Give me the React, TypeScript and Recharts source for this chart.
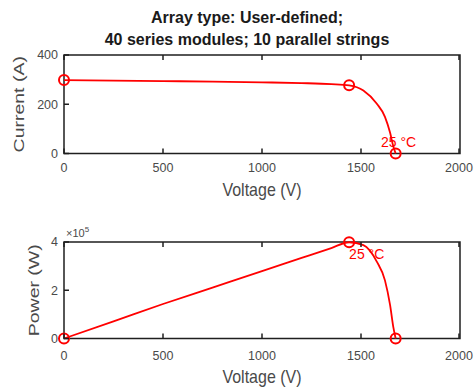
import React from "react";
import { Label, Line, LineChart, ReferenceArea, XAxis, YAxis } from "recharts";

// I-V and P-V curve samples
const voltage = [0, 250, 500, 750, 1000, 1200, 1350, 1440, 1512, 1579, 1621, 1647, 1663, 1675];
const current = [298, 296, 294, 292, 289, 286, 282, 277, 256, 203, 149, 84, 29, 0];
const power = [0, 71000, 143000, 211000, 279000, 334000, 375000, 399000, 387000, 320000, 241000, 138000, 48000, 0];
const markerIdx = [0, 7, 13];
const xTicks = [0, 500, 1000, 1500, 2000];
const currentTicks = [0, 200, 400];
const powerTicks = [0, 200000, 400000];

const data = voltage.map((v, i) => ({ v, i: current[i], p: power[i] }));

const FONT = '"Liberation Sans", Arial, Helvetica, sans-serif';
const RED = "#ff0000";
const AX = "#1f1f1f";
const TXT = "#4a4a4a";
const TL = 5; // inward tick length

const renderDot = (props: any) => {
  const { cx, cy, index } = props;
  if (!markerIdx.includes(index)) return <g key={`d${index}`} />;
  return <circle key={`d${index}`} cx={cx} cy={cy} r={5} stroke={RED} strokeWidth={2} fill="none" />;
};

// bottom axis: label + tick pointing up into the plot
const bottomTick = (gap: number) => (props: any) => {
  const { x, y, payload } = props;
  const base = y - gap;
  return (
    <g>
      <line x1={x} x2={x} y1={base} y2={base - TL} stroke={AX} strokeWidth={1.5} />
      <text x={x} y={y} dy="0.71em" textAnchor="middle" fontSize={12.5} fontFamily={FONT} fill={TXT}>
        {payload.value}
      </text>
    </g>
  );
};

const leftTick = (gap: number, fmt?: (v: number) => string) => (props: any) => {
  const { x, y, payload } = props;
  const base = x + gap;
  return (
    <g>
      <line x1={base} x2={base + TL} y1={y} y2={y} stroke={AX} strokeWidth={1.5} />
      <text x={x} y={y} dy="0.355em" textAnchor="end" fontSize={12.5} fontFamily={FONT} fill={TXT}>
        {fmt ? fmt(payload.value) : payload.value}
      </text>
    </g>
  );
};

const topTick = (props: any) => (
  <line x1={props.x} x2={props.x} y1={props.y} y2={props.y + TL} stroke={AX} strokeWidth={1.5} />
);
const rightTick = (props: any) => (
  <line x1={props.x} x2={props.x - TL} y1={props.y} y2={props.y} stroke={AX} strokeWidth={1.5} />
);

const yTitle = (text: string, dx: number, exp?: boolean) => (props: any) => {
  const { x, y, width, height } = props.viewBox;
  const cx = x + dx;
  const cy = y + height / 2;
  return (
    <g>
      <text
        transform={`translate(${cx},${cy}) rotate(-90) scale(1.3,1)`}
        textAnchor="middle"
        dominantBaseline="central"
        fontSize={15}
        fontFamily={FONT}
        fill={TXT}
      >
        {text}
      </text>
      {exp && (
        <text x={x + width + 2} y={y - 5} fontSize={11} fontFamily={FONT} fill={TXT}>
          ×10
          <tspan dy={-5} fontSize={8}>5</tspan>
        </text>
      )}
    </g>
  );
};

const xTitle = (dy: number) => (props: any) => {
  const { x, y, width } = props.viewBox;
  return (
    <text
      transform={`translate(${x + width / 2},${y + dy}) scale(1,1.15)`}
      textAnchor="middle"
      dominantBaseline="central"
      fontSize={16}
      fontFamily={FONT}
      fill={TXT}
    >
      Voltage (V)
    </text>
  );
};

const Panel = ({
  height,
  top,
  bottom,
  yMax,
  yTicks,
  dataKey,
  title,
  titleDx,
  tickGap,
  labelDy,
  exp,
  fmt,
  labelIdx,
  labelDx,
  labelDyText,
  labelAnchor,
}: any) => (
  <LineChart width={475} height={height} data={data} margin={{ top, right: 14, left: 24, bottom }}>
    <XAxis
      dataKey="v"
      type="number"
      domain={[0, 2000]}
      ticks={xTicks}
      tickSize={0}
      tickMargin={tickGap}
      tickLine={false}
      axisLine={false}
      tick={bottomTick(tickGap)}
      height={30}
    >
      <Label content={xTitle(labelDy)} />
    </XAxis>
    <XAxis
      xAxisId="t"
      orientation="top"
      dataKey="v"
      type="number"
      domain={[0, 2000]}
      ticks={xTicks}
      tickSize={0}
      tickMargin={0}
      tickLine={false}
      axisLine={false}
      tick={topTick}
      height={1}
    />
    <YAxis
      type="number"
      domain={[0, yMax]}
      ticks={yTicks}
      tickSize={0}
      tickMargin={6}
      tickLine={false}
      axisLine={false}
      tick={leftTick(6, fmt)}
      width={40}
    >
      <Label content={yTitle(title, titleDx, exp)} />
    </YAxis>
    <YAxis
      yAxisId="r"
      orientation="right"
      type="number"
      domain={[0, yMax]}
      ticks={yTicks}
      tickSize={0}
      tickMargin={0}
      tickLine={false}
      axisLine={false}
      tick={rightTick}
      width={1}
    />
    <ReferenceArea x1={0} x2={2000} y1={0} y2={yMax} fill="none" stroke={AX} strokeWidth={1.5} />
    <Line
      dataKey={dataKey}
      type="monotone"
      stroke={RED}
      strokeWidth={1.8}
      dot={renderDot}
      activeDot={false}
      isAnimationActive={false}
      label={(p: any) =>
        p.index === labelIdx ? (
          <text
            key="l"
            x={p.x + labelDx}
            y={p.y + labelDyText}
            textAnchor={labelAnchor}
            fontSize={14}
            fontFamily={FONT}
            fill={RED}
          >
            25 °C
          </text>
        ) : (
          <g key={`l${p.index}`} />
        )
      }
    />
  </LineChart>
);

export default function App() {
  return (
    <div style={{ position: "absolute", left: 0, top: 0, width: 475, height: 389, background: "#fff" }}>
      <div
        style={{
          position: "absolute",
          left: 47,
          width: 400,
          top: 7,
          textAlign: "center",
          fontFamily: FONT,
          fontWeight: "bold",
          fontSize: 16,
          lineHeight: "22px",
          color: "#1a1a1a",
        }}
      >
        Array type: User-defined;
        <br />
        40 series modules; 10 parallel strings
      </div>

      <div style={{ position: "absolute", left: 0, top: 0 }}>
        <Panel
          height={200}
          top={54}
          bottom={16.5}
          yMax={400}
          yTicks={currentTicks}
          dataKey="i"
          title="Current (A)"
          titleDx={-5}
          tickGap={10}
          labelDy={36.5}
          labelIdx={13}
          labelDx={3}
          labelDyText={-7}
          labelAnchor="middle"
        />
      </div>

      <div style={{ position: "absolute", left: 0, top: 195 }}>
        <Panel
          height={194}
          top={46}
          bottom={20.5}
          yMax={400000}
          yTicks={powerTicks}
          dataKey="p"
          title="Power (W)"
          titleDx={10}
          tickGap={13}
          labelDy={38.5}
          exp
          fmt={(t: number) => String(t / 100000)}
          labelIdx={7}
          labelDx={0}
          labelDyText={17}
          labelAnchor="start"
        />
      </div>
    </div>
  );
}
